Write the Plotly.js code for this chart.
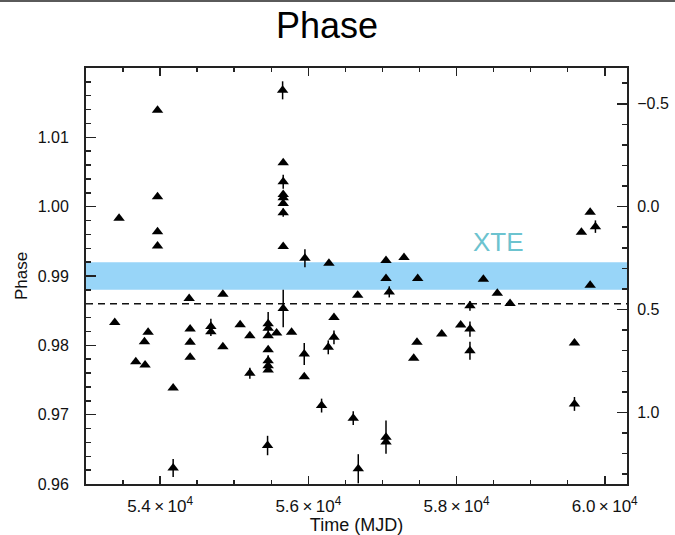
<!DOCTYPE html>
<html>
<head>
<meta charset="utf-8">
<script src="https://cdn.plot.ly/plotly-3.0.1.min.js"></script>
<style>
  html, body { margin: 0; padding: 0; background: #fff; }
  #wrap { position: relative; width: 675px; height: 535px; }
  #chart { width: 675px; height: 535px; }
  #rule { position: absolute; left: 0; top: 0; width: 675px; height: 2px; background: #5a5a5a; }
</style>
</head>
<body>
<div id="wrap">
  <div id="chart"></div>
  <div id="rule"></div>
</div>
<script>
// Pulse arrival phase of each observation vs. time (MJD)
const mjd = [
  53388, 53446, 53672, 53789, 53797, 53838, 53965, 53965, 53965, 53965,
  54176, 54176, 54392, 54405, 54405, 54405, 54685, 54685, 54847, 54847,
  55080, 55211, 55211, 55450, 55458, 55458, 55458, 55458, 55458, 55458,
  55458, 55572, 55653, 55661, 55661, 55661, 55661, 55661, 55661, 55661,
  55661, 55774, 55945, 55945, 55954, 56179, 56269, 56278, 56346, 56346,
  56606, 56666, 56674, 57048, 57048, 57048, 57048, 57092, 57291, 57422,
  57466, 57476, 57800, 58056, 58181, 58181, 58181, 58362, 58550, 58722,
  59591, 59591, 59685, 59803, 59803, 59874
];
const phase = [
  0.98331, 0.99832, 0.97764, 0.98052, 0.97717, 0.98187, 1.0139, 1.00144, 0.9964, 0.99433,
  0.97386, 0.9623, 0.98676, 0.98235, 0.98043, 0.97827, 0.98273, 0.98196, 0.98738, 0.97980,
  0.98297, 0.98138, 0.97597, 0.96555, 0.98310, 0.98245, 0.98138, 0.97936, 0.97778, 0.97706,
  0.97645, 0.98177, 1.01678, 1.00633, 1.0036, 1.00177, 1.0013, 1.00047, 0.99914, 0.99424,
  0.98532, 0.98187, 0.97875, 0.97548, 0.99256, 0.97131, 0.97971, 0.99184, 0.98115, 0.98403,
  0.96950, 0.98724, 0.9622, 0.99223, 0.98964, 0.96676, 0.96604, 0.98771, 0.99266, 0.97813,
  0.98043, 0.98964, 0.98163, 0.98292, 0.98570, 0.98235, 0.97922, 0.98954, 0.98753, 0.98604,
  0.98033, 0.97155, 0.9963, 0.99918, 0.98868, 0.99712
];
const phaseErr = [
  0, 0, 0, 0, 0, 0, 0, 0, 0, 0,
  0, 0.0013, 0, 0, 0, 0, 0.0011, 0.0006, 0, 0,
  0, 0, 0.0008, 0.0014, 0.0017, 0, 0, 0, 0.0008, 0,
  0, 0, 0.0013, 0, 0.001, 0, 0, 0, 0.0006, 0,
  0.0027, 0, 0.0016, 0, 0.0013, 0.001, 0.001, 0, 0.001, 0,
  0.001, 0, 0.0021, 0, 0, 0.0024, 0, 0.0008, 0, 0,
  0, 0, 0, 0, 0.0007, 0.0011, 0.0013, 0, 0, 0,
  0, 0.001, 0, 0, 0, 0.0009
];

// Axis settings
const xRange = [53000, 60300];
const xTickVals = [54000, 56000, 58000, 60000];
const xTickText = ['5.4\u2009\u00d7\u200910<sup>4</sup>', '5.6\u2009\u00d7\u200910<sup>4</sup>',
                   '5.8\u2009\u00d7\u200910<sup>4</sup>', '6.0\u2009\u00d7\u200910<sup>4</sup>'];
const yRange = [0.96, 1.02];
const yTickVals = [0.96, 0.97, 0.98, 0.99, 1.00, 1.01];
const msTickVals = [-0.5, 0.0, 0.5, 1.0];
const periodMs = 33.7;            // right-hand scale: phase offset in ms
const toMs = p => (1 - p) * periodMs;

// XTE reference phase band and mean phase
const xteBand = [0.988, 0.992];
const meanPhase = 0.986;
const xteLabel = { text: 'XTE', x: 58569, y: 0.99496 };

const FONT = 'Liberation Sans, Arial, sans-serif';
const tickFont = { family: FONT, size: 16, color: '#111' };

const traces = [
  {
    type: 'scatter', mode: 'markers',
    x: mjd, y: phase,
    marker: { symbol: 'triangle-up', size: 10, color: '#000' },
    error_y: { type: 'data', array: phaseErr, visible: true, color: '#000', thickness: 1.5, width: 0 },
    hoverinfo: 'x+y', showlegend: false
  },
  // same observations on the ms scale; carries the right-hand axis
  {
    type: 'scatter', mode: 'markers', yaxis: 'y2',
    x: mjd, y: phase.map(toMs),
    marker: { size: 1, opacity: 0 },
    hoverinfo: 'skip', showlegend: false
  }
];

const layout = {
  width: 675, height: 535,
  margin: { l: 86, r: 48, t: 68, b: 50.5 },
  paper_bgcolor: '#fff', plot_bgcolor: '#fff',
  showlegend: false,
  title: {
    text: 'Phase', x: 327 / 675, xanchor: 'center', xref: 'container',
    y: 1 - 25 / 535, yref: 'container', yanchor: 'middle',
    font: { family: FONT, size: 36, color: '#000' }
  },
  xaxis: {
    range: xRange, tickmode: 'array', tickvals: xTickVals, ticktext: xTickText,
    ticks: 'inside', ticklen: 8, tickwidth: 1.5, tickcolor: '#222',
    minor: { dtick: 500, tick0: 53000, ticks: 'inside', ticklen: 4, tickwidth: 1.5, tickcolor: '#222' },
    showline: true, linecolor: '#222', linewidth: 2, mirror: 'ticks',
    showgrid: false, zeroline: false, ticklabelstandoff: 6,
    tickfont: { family: FONT, size: 17, color: '#111' },
    title: { text: 'Time (MJD)', font: { family: FONT, size: 18, color: '#111' }, standoff: 4 }
  },
  yaxis: {
    range: yRange, tickmode: 'array', tickvals: yTickVals, tickformat: '.2f',
    ticks: 'inside', ticklen: 10, tickwidth: 1.5, tickcolor: '#222',
    minor: { dtick: 0.002, tick0: 0.96, ticks: 'inside', ticklen: 5, tickwidth: 1.5, tickcolor: '#222' },
    showline: true, linecolor: '#222', linewidth: 2, mirror: false,
    showgrid: false, zeroline: false, ticklabelstandoff: 12,
    tickfont: tickFont,
    title: { text: 'Phase', font: { family: FONT, size: 17, color: '#111' }, standoff: 6 }
  },
  yaxis2: {
    overlaying: 'y', side: 'right', anchor: 'x',
    range: [toMs(yRange[0]), toMs(yRange[1])],
    tickmode: 'array', tickvals: msTickVals, tickformat: '.1f',
    ticks: 'inside', ticklen: 10, tickwidth: 1.5, tickcolor: '#222',
    minor: { dtick: 0.1, tick0: 0, ticks: 'inside', ticklen: 5, tickwidth: 1.5, tickcolor: '#222' },
    showline: true, linecolor: '#222', linewidth: 2,
    showgrid: false, zeroline: false, ticklabelstandoff: 5,
    tickfont: tickFont
  },
  shapes: [
    {
      type: 'rect', layer: 'below', xref: 'paper', yref: 'y',
      x0: 0, x1: 1, y0: xteBand[0], y1: xteBand[1],
      fillcolor: '#98d5f8', line: { width: 0 }
    },
    {
      type: 'line', layer: 'below', xref: 'paper', yref: 'y',
      x0: 0, x1: 1, y0: meanPhase, y1: meanPhase,
      line: { color: '#111', width: 1.5, dash: '7px,5px' }
    }
  ],
  annotations: [
    {
      text: xteLabel.text, x: xteLabel.x, y: xteLabel.y, xref: 'x', yref: 'y',
      showarrow: false, xanchor: 'center', yanchor: 'middle',
      font: { family: FONT, size: 26, color: '#6cc3cf' }
    }
  ]
};

Plotly.newPlot('chart', traces, layout, { staticPlot: true, displayModeBar: false });
</script>
</body>
</html>
